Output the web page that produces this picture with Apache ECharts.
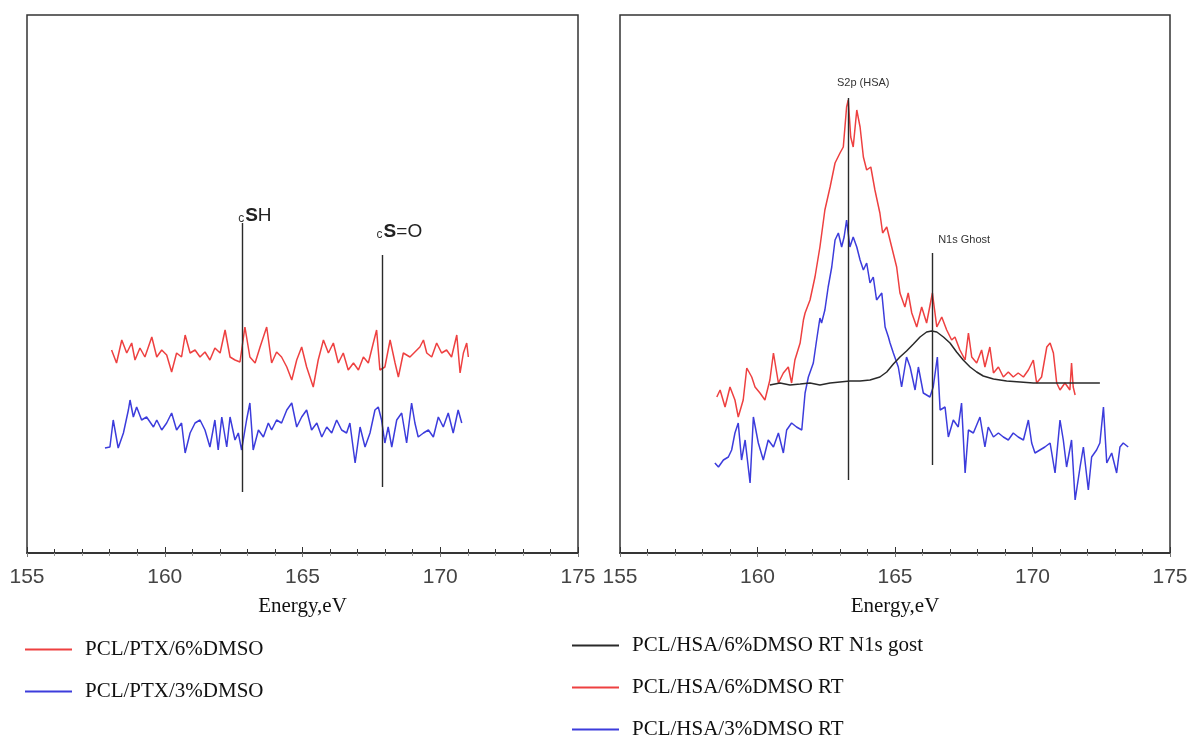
<!DOCTYPE html>
<html>
<head>
<meta charset="utf-8">
<script src="https://cdn.jsdelivr.net/npm/echarts@6/dist/echarts.min.js"></script>
<style>
  html, body { margin: 0; padding: 0; background: #fff; }
  #chart { width: 1191px; height: 740px; }
</style>
</head>
<body>
<div id="chart"></div>
<script>
// XPS S2p region, binding energy (eV) vs. intensity (arbitrary units)

// Energy axis ticks
const energyTicks = [155, 160, 165, 170, 175];
const axisTitle = 'Energy,eV';

// Left panel: PCL/PTX films
const ptx6Name = 'PCL/PTX/6%DMSO';
const ptx3Name = 'PCL/PTX/3%DMSO';
const ptx6 = [
  [158.07,203],[158.25,190],[158.44,213],[158.62,200],[158.80,210],[158.92,193],[159.10,205],[159.28,196],
  [159.53,216],[159.71,196],[159.89,203],[160.07,198],[160.25,181],[160.43,200],[160.61,196],[160.74,218],
  [160.92,200],[161.10,203],[161.28,196],[161.46,201],[161.64,193],[161.82,205],[162.01,200],[162.19,223],
  [162.37,196],[162.55,193],[162.73,191],[162.91,226],[163.09,196],[163.28,190],[163.46,206],[163.70,226],
  [163.88,190],[164.06,201],[164.24,196],[164.43,186],[164.61,173],[164.79,193],[164.97,206],[165.15,186],
  [165.39,166],[165.57,193],[165.76,213],[165.94,200],[166.12,210],[166.30,190],[166.48,200],[166.66,183],
  [166.85,190],[167.03,183],[167.21,196],[167.39,190],[167.57,210],[167.69,223],[167.81,183],[167.99,186],
  [168.18,213],[168.36,190],[168.48,176],[168.66,200],[168.90,196],[169.08,201],[169.26,206],[169.39,213],
  [169.51,200],[169.69,196],[169.87,210],[170.05,200],[170.23,203],[170.41,196],[170.60,218],[170.72,180],
  [170.84,200],[170.96,210],[171.02,196]
];
const ptx3 = [
  [157.83,105],[158.01,106],[158.13,133],[158.31,105],[158.50,120],[158.68,143],[158.74,153],[158.86,136],
  [158.98,146],[159.16,133],[159.34,136],[159.59,126],[159.71,133],[159.89,123],[160.07,130],[160.25,140],
  [160.43,123],[160.61,130],[160.74,100],[160.92,120],[161.10,130],[161.28,133],[161.46,123],[161.64,106],
  [161.82,133],[161.94,103],[162.07,136],[162.25,106],[162.37,136],[162.55,113],[162.67,120],[162.79,103],
  [162.97,133],[163.09,150],[163.21,103],[163.40,123],[163.58,116],[163.76,130],[163.88,123],[164.06,133],
  [164.24,130],[164.43,143],[164.61,150],[164.79,126],[164.97,136],[165.15,143],[165.33,123],[165.52,130],
  [165.70,116],[165.88,126],[166.06,120],[166.24,133],[166.42,123],[166.60,120],[166.72,130],[166.91,90],
  [167.09,126],[167.27,106],[167.45,120],[167.63,143],[167.75,146],[167.87,133],[167.99,110],[168.11,126],
  [168.24,106],[168.42,133],[168.60,140],[168.78,110],[168.96,150],[169.08,130],[169.20,116],[169.39,120],
  [169.57,123],[169.75,116],[169.93,136],[170.11,126],[170.29,140],[170.47,120],[170.65,143],[170.78,130]
];
// Reference lines: [label, energy, upper intensity, lower intensity]
const ptxMarkers = [
  ['SH', 162.8, 330, 61],
  ['S=O', 167.9, 298, 66]
];

// Right panel: PCL/HSA films
const hsaGhostName = 'PCL/HSA/6%DMSO RT N1s gost';
const hsa6Name = 'PCL/HSA/6%DMSO RT';
const hsa3Name = 'PCL/HSA/3%DMSO RT';
const hsaGhost = [
  [160.45,168],[160.82,170],[161.18,168],[161.55,169],[161.91,170],[162.27,168],[162.64,170],[163.00,171],
  [163.36,172],[163.73,172],[164.09,173],[164.45,176],[164.70,181],[164.94,189],[165.18,196],[165.42,202],
  [165.67,209],[165.91,216],[166.15,221],[166.33,222],[166.52,221],[166.76,216],[167.00,210],[167.24,201],
  [167.48,193],[167.73,186],[167.97,181],[168.21,177],[168.58,174],[169.06,172],[169.55,171],[170.03,170],
  [170.64,170],[171.24,170],[171.85,170],[172.45,170]
];
const hsa6 = [
  [158.52,156],[158.64,163],[158.82,146],[159.00,166],[159.18,153],[159.30,136],[159.48,153],[159.61,185],
  [159.79,176],[159.91,166],[160.09,160],[160.27,153],[160.45,173],[160.58,200],[160.76,170],[160.94,180],
  [161.12,186],[161.24,170],[161.36,193],[161.55,210],[161.67,233],[161.73,240],[161.91,253],[162.09,276],
  [162.27,306],[162.45,343],[162.64,366],[162.82,390],[163.00,400],[163.12,406],[163.24,446],[163.30,453],
  [163.39,416],[163.48,406],[163.61,443],[163.73,426],[163.85,396],[163.97,383],[164.12,386],[164.27,363],
  [164.45,340],[164.55,320],[164.70,326],[164.88,306],[165.06,286],[165.18,260],[165.36,246],[165.48,260],
  [165.61,240],[165.79,226],[165.97,246],[166.15,230],[166.36,260],[166.52,226],[166.70,236],[166.88,223],
  [167.06,213],[167.18,216],[167.36,203],[167.55,193],[167.67,220],[167.79,196],[167.97,190],[168.15,203],
  [168.27,186],[168.45,206],[168.58,180],[168.76,186],[168.94,176],[169.12,181],[169.30,176],[169.48,180],
  [169.67,176],[169.85,183],[170.03,193],[170.15,170],[170.33,176],[170.52,206],[170.64,210],[170.76,200],
  [170.88,170],[171.00,163],[171.18,170],[171.36,163],[171.42,190],[171.48,166],[171.55,158]
];
const hsa3 = [
  [158.45,90],[158.58,86],[158.76,93],[158.94,96],[159.06,103],[159.18,120],[159.30,130],[159.42,93],
  [159.55,113],[159.73,70],[159.85,136],[160.03,110],[160.21,93],[160.39,113],[160.58,106],[160.76,120],
  [160.94,100],[161.06,123],[161.24,130],[161.42,126],[161.61,123],[161.73,160],[161.85,176],[162.03,190],
  [162.15,213],[162.27,235],[162.33,230],[162.45,243],[162.57,266],[162.70,286],[162.82,313],[162.94,320],
  [163.06,306],[163.15,316],[163.24,333],[163.36,306],[163.48,316],[163.61,306],[163.73,293],[163.85,283],
  [163.97,290],[164.09,270],[164.21,276],[164.33,253],[164.52,260],[164.64,226],[164.76,216],[164.82,210],
  [164.94,200],[165.12,186],[165.24,166],[165.42,196],[165.55,186],[165.73,163],[165.85,186],[166.03,160],
  [166.27,156],[166.39,166],[166.54,196],[166.64,143],[166.82,146],[166.94,116],[167.12,133],[167.30,126],
  [167.42,150],[167.55,80],[167.67,123],[167.85,120],[168.09,136],[168.27,106],[168.39,126],[168.58,116],
  [168.76,120],[168.94,116],[169.12,113],[169.30,120],[169.48,116],[169.67,113],[169.85,133],[169.97,110],
  [170.09,100],[170.27,103],[170.45,106],[170.64,110],[170.82,80],[171.00,133],[171.12,113],[171.24,86],
  [171.42,113],[171.55,53],[171.73,86],[171.85,106],[172.03,63],[172.15,96],[172.33,103],[172.45,110],
  [172.58,146],[172.70,90],[172.88,100],[173.06,80],[173.18,106],[173.30,110],[173.48,106]
];
const hsaMarkers = [
  ['S2p (HSA)', 163.3, 455, 73],
  ['N1s Ghost', 166.35, 300, 88]
];

const RED = '#ee4040';
const BLUE = '#3c3cdc';
const BLACK = '#2a2a2a';
const FRAME = '#333';
const tickFont = 'Liberation Sans Narrow, Liberation Sans, Arial, sans-serif';
const serifFont = 'Liberation Serif, Times New Roman, serif';

function vLines(markers) {
  return {
    silent: true,
    symbol: ['none', 'none'],
    animation: false,
    lineStyle: { color: BLACK, width: 1.4, type: 'solid' },
    label: { show: false },
    data: markers.map(m => [{ coord: [m[1], m[2]] }, { coord: [m[1], m[3]] }])
  };
}

// Small "c" prefix plus bold sulphur, e.g. cSH, cS=O
function sulfurLabel(text) {
  return '{c|c}{s|S}{r|' + text.slice(1) + '}';
}
const sulfurRich = {
  c: { fontSize: 12, fontFamily: 'Liberation Sans, Arial, sans-serif', color: '#333', verticalAlign: 'bottom', padding: [0, 1, 0, 0] },
  s: { fontSize: 19, fontWeight: 'bold', fontFamily: 'Liberation Sans, Arial, sans-serif', color: '#222', verticalAlign: 'bottom' },
  r: { fontSize: 19, fontFamily: 'Liberation Sans, Arial, sans-serif', color: '#222', verticalAlign: 'bottom' }
};

const ptxLabelOffsets = [[13, 2], [17, -14]];
const hsaLabelOffsets = [[15, -10], [32, -8]];

function xAxisPair(gridIndex) {
  const common = {
    type: 'value', gridIndex, min: energyTicks[0], max: energyTicks[energyTicks.length - 1],
    interval: energyTicks[1] - energyTicks[0],
    splitLine: { show: false },
    axisLine: { show: true, lineStyle: { color: FRAME, width: 1.5 } },
    axisTick: { show: true, inside: true, length: 6, lineStyle: { color: FRAME, width: 1 } },
    minorTick: { show: true, splitNumber: 5, length: 4, lineStyle: { color: FRAME, width: 1 } }
  };
  return [
    Object.assign({}, common, {
      position: 'bottom',
      axisLabel: { show: true, margin: 14, fontSize: 21, fontFamily: tickFont, color: '#444' },
      name: axisTitle, nameLocation: 'middle', nameGap: 43,
      nameTextStyle: { fontFamily: serifFont, fontSize: 21, color: '#111' }
    }),
    Object.assign({}, common, {
      position: 'top',
      axisLabel: { show: false },
      axisTick: { show: true, inside: true, length: 4, lineStyle: { color: '#777', width: 1 } },
      minorTick: { show: true, splitNumber: 5, length: 3, lineStyle: { color: '#999', width: 1 } }
    })
  ];
}

function yAxis(gridIndex) {
  return { type: 'value', gridIndex, min: 0, max: 538, show: false };
}

function lineSeries(name, data, color, axisIdx, extra) {
  return Object.assign({
    name, type: 'line', data,
    xAxisIndex: axisIdx, yAxisIndex: axisIdx,
    symbol: 'none', smooth: false, animation: false,
    lineStyle: { color, width: 1.5 },
    itemStyle: { color }
  }, extra || {});
}

const chart = echarts.init(document.getElementById('chart'), null, { renderer: 'canvas' });

const legendText = { fontFamily: serifFont, fontSize: 21, color: '#111', padding: [0, 0, 0, 8] };
const legendCommon = {
  orient: 'vertical', padding: 0, icon: 'rect',
  itemWidth: 47, itemHeight: 2, itemGap: 21, textStyle: legendText
};

chart.setOption({
  backgroundColor: '#fff',
  animation: false,
  grid: [
    { left: 27, top: 15, width: 551, height: 538, show: true, borderColor: FRAME, borderWidth: 1.5, backgroundColor: 'transparent' },
    { left: 620, top: 15, width: 550, height: 538, show: true, borderColor: FRAME, borderWidth: 1.5, backgroundColor: 'transparent' }
  ],
  xAxis: [].concat(xAxisPair(0), xAxisPair(1)),
  yAxis: [yAxis(0), yAxis(0), yAxis(1), yAxis(1)],
  legend: [
    Object.assign({ data: [ptx6Name, ptx3Name], left: 25, top: 639, height: 100 }, legendCommon),
    Object.assign({ data: [hsaGhostName, hsa6Name, hsa3Name], left: 572, top: 635, height: 105 }, legendCommon)
  ],
  series: [
    lineSeries(ptx6Name, ptx6, RED, 0, {
      markLine: vLines(ptxMarkers),
      markPoint: {
        silent: true, animation: false,
        data: ptxMarkers.map((m, i) => ({
          coord: [m[1], m[2]], symbol: 'circle', symbolSize: 0,
          label: {
            show: true, position: 'top', distance: 0, offset: ptxLabelOffsets[i],
            formatter: sulfurLabel(m[0]), rich: sulfurRich
          }
        }))
      }
    }),
    lineSeries(ptx3Name, ptx3, BLUE, 0),
    lineSeries(hsaGhostName, hsaGhost, BLACK, 2, { z: 4 }),
    lineSeries(hsa6Name, hsa6, RED, 2, {
      markLine: vLines(hsaMarkers),
      markPoint: {
        silent: true, animation: false,
        data: hsaMarkers.map((m, i) => ({
          coord: [m[1], m[2]], symbol: 'circle', symbolSize: 0,
          label: {
            show: true, position: 'top', distance: 0, offset: hsaLabelOffsets[i],
            formatter: m[0], fontSize: 11, fontFamily: 'Liberation Sans, Arial, sans-serif', color: '#333'
          }
        }))
      }
    }),
    lineSeries(hsa3Name, hsa3, BLUE, 2)
  ]
});
</script>
</body>
</html>
